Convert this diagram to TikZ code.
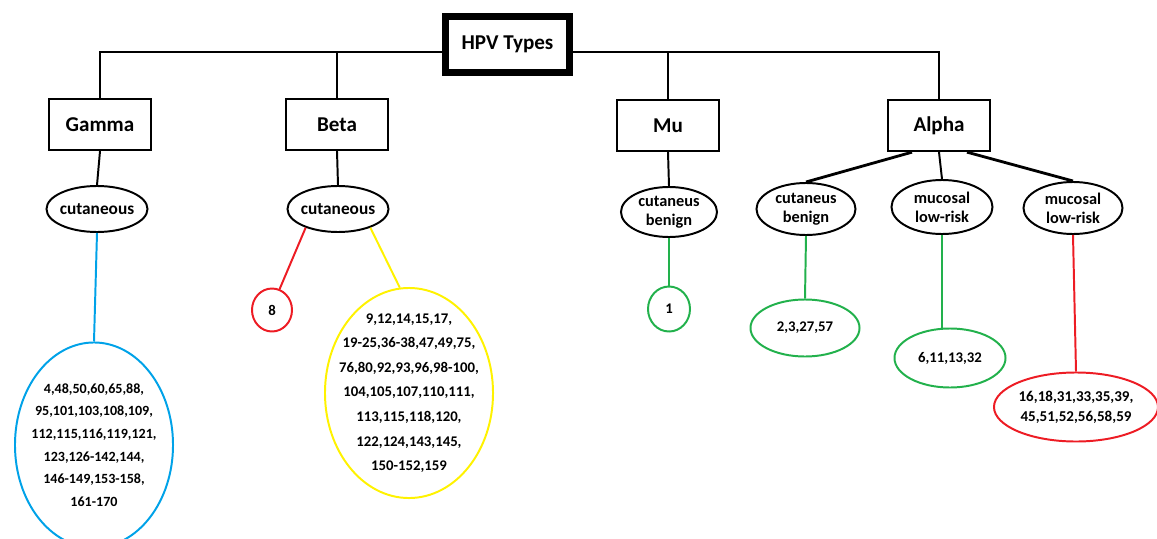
\documentclass[tikz,border=0pt]{standalone}
\usepackage{fontspec}
\setmainfont{Carlito}
\usepackage{xcolor}
\usetikzlibrary{shapes, positioning}
\definecolor{paintblue}{RGB}{0,162,232}
\definecolor{paintred}{RGB}{237,28,36}
\definecolor{paintyellow}{RGB}{255,242,0}
\definecolor{paintgreen}{RGB}{34,177,76}
\tikzset{
    rootbox/.style={
        rectangle,
        draw=black,
        line width=4.5pt,
        inner sep=0pt,
        minimum width=3.1cm,
        minimum height=1.4cm,
        font=\bfseries\fontsize{15}{18}\selectfont,
    },
    genus/.style={
        rectangle,
        draw=black,
        line width=1.5pt,
        inner sep=0pt,
        minimum width=2.55cm,
        minimum height=1.28cm,
        font=\bfseries\fontsize{15}{18}\selectfont,
    },
    group/.style={
        ellipse,
        draw=black,
        line width=1.4pt,
        inner sep=-1cm,
        align=center,
        font=\bfseries\fontsize{11.6}{13.5}\selectfont,
    },
    typelist/.style={
        ellipse,
        line width=1.4pt,
        inner sep=-2cm,
        align=center,
        font=\bfseries\fontsize{10.5}{17.5}\selectfont,
    },
    link/.style={draw=black, line width=1.4pt},
}

\begin{document}
\begin{tikzpicture}[x=0.025cm, y=-0.025cm]
      \useasboundingbox (0,0) rectangle (1157,539);

      \node[rootbox] (hpv) at (507.5,44.5) {HPV Types};
      \coordinate (bus) at (0,52);

      \node[genus] (gamma) at (100,124.5) {Gamma};
      \node[genus] (beta) at (337,124.5) {Beta};
      \node[genus] (mu) at (668,125.5) {Mu};
      \node[genus] (alpha) at (939,125.5) {Alpha};

      \node[group, minimum width=2.525cm, minimum height=1.15cm, font=\bfseries\fontsize{12.3}{14}\selectfont] (g-cut) at (97,209) {cutaneous};
      \node[group, minimum width=2.525cm, minimum height=1.15cm, font=\bfseries\fontsize{12.3}{14}\selectfont] (b-cut) at (338,209) {cutaneous};
      \node[group, minimum width=2.4cm, minimum height=1.25cm] (m-cut) at (669,212) {cutaneus\\benign};
      \node[group, minimum width=2.475cm, minimum height=1.3cm] (a-cut) at (806,209) {cutaneus\\benign};
      \node[group, minimum width=2.525cm, minimum height=1.35cm] (a-muc1) at (942,207) {mucosal\\low-risk};
      \node[group, minimum width=2.475cm, minimum height=1.3cm] (a-muc2) at (1073,208) {mucosal\\low-risk};

      \node[typelist, draw=paintblue, minimum width=3.95cm, minimum height=5.125cm, font=\bfseries\fontsize{10}{16.1}\selectfont] (g-list) at (94,445)
          {4,48,50,60,65,88,\\95,101,103,108,109,\\112,115,116,119,121,\\123,126-142,144,\\146-149,153-158,\\161-170};
      \node[typelist, draw=paintred, minimum width=1cm, minimum height=1.075cm] (b-high) at (272,310) {8};
      \node[typelist, draw=paintyellow, minimum width=4.2cm, minimum height=5.25cm] (b-list) at (409,393)
          {9,12,14,15,17,\\19-25,36-38,47,49,75,\\76,80,92,93,96,98-100,\\104,105,107,110,111,\\113,115,118,120,\\122,124,143,145,\\150-152,159};
      \node[typelist, draw=paintgreen, minimum width=1.05cm, minimum height=1.125cm] (m-list) at (669,309) {1};
      \node[typelist, draw=paintgreen, minimum width=2.725cm, minimum height=1.425cm] (a-list1) at (805,328) {2,3,27,57};
      \node[typelist, draw=paintgreen, minimum width=2.775cm, minimum height=1.475cm] (a-list2) at (950,358) {6,11,13,32};
      \node[typelist, draw=paintred, minimum width=4.1cm, minimum height=1.725cm, font=\bfseries\fontsize{10.7}{14.2}\selectfont] (a-list3) at (1076,407)
          {16,18,31,33,35,39,\\45,51,52,56,58,59};

      % tree
      \draw[link] (hpv.west |- bus) -| (gamma.north);
      \draw[link] (hpv.east |- bus) -| (alpha.north);
      \draw[link] (beta.north) -- (beta.north |- bus);
      \draw[link] (mu.north) -- (mu.north |- bus);

      \draw[link] (gamma.south) -- (g-cut.north);
      \draw[link] (beta.south) -- (b-cut.north);
      \draw[link] (mu.south) -- (m-cut.north);
      \draw[link, line width=2pt] ([xshift=-0.675cm]alpha.south) -- (a-cut.north);
      \draw[link] (alpha.south) -- (a-muc1.north);
      \draw[link, line width=2pt] ([xshift=0.7cm]alpha.south) -- (a-muc2.north);

      % types
      \draw[paintblue, line width=1.4pt] (g-cut.south) -- (g-list.north);
      \draw[paintred, line width=1.4pt] (b-cut.210) -- (b-high.70);
      \draw[paintyellow, line width=1.4pt] (b-cut.-30) -- (b-list.95);
      \draw[paintgreen, line width=1.4pt] (m-cut.south) -- (m-list.north);
      \draw[paintgreen, line width=1.4pt] (a-cut.south) -- (a-list1.north);
      \draw[paintgreen, line width=1.4pt] (a-muc1.south) -- (a-muc1.south |- a-list2.north);
      \draw[paintred, line width=1.4pt] (a-muc2.south) -- (a-list3.north);
\end{tikzpicture}
\end{document}
